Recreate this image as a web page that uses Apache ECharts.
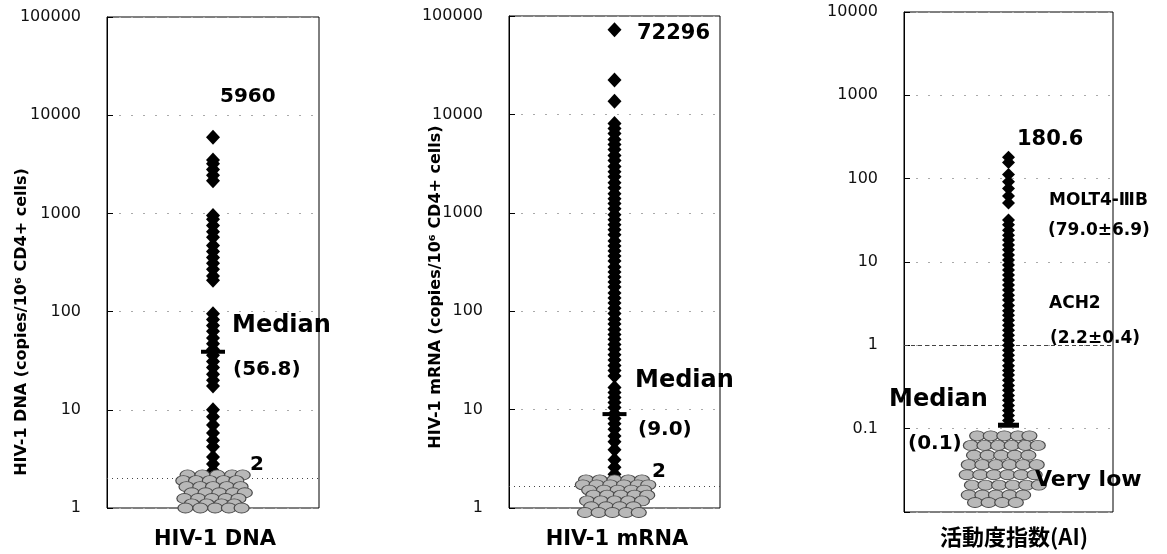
<!DOCTYPE html>
<html>
<head>
<meta charset="utf-8">
<script src="https://cdn.jsdelivr.net/npm/echarts@6/dist/echarts.min.js"></script>
<style>
  html, body { margin: 0; padding: 0; background: #fff; }
  #chart { width: 1167px; height: 554px; }
</style>
</head>
<body>
<div id="chart"></div>
<script>
// values (log scales)
const dnaHigh = [5960, 3500, 3200, 2800, 2450, 2150, 950, 870, 755, 650, 570, 470, 410, 355, 310, 270, 230, 208,
  95, 83, 72, 63, 54, 47, 41, 36, 31, 27, 23, 20, 17.5, 10, 8.5, 7, 5.8, 4.9, 4.2, 3.3, 2.8, 2.4];
const mrnaHigh = [72296, 22400, 13600, 8090, 7200, 6400, 5560, 4940, 4400, 3820, 3400, 2950, 2620, 2330, 2020,
  1800, 1560, 1390, 1240, 1100, 955, 849, 755, 671, 597, 518, 461, 410, 364, 324, 281, 250, 222, 198, 176,
  153, 136, 121, 107, 95, 83, 74, 65, 58, 52, 46, 41, 36, 32, 28, 25, 22, 16.8, 14.9, 13.3, 11.8, 10.5, 9.1,
  8.1, 7.2, 6.3, 5.4, 4.7, 3.9, 3.1, 2.6, 2.2];
const aiHigh = [180.6, 156, 112, 92, 76, 62, 51, 32, 28, 24, 21, 18.4, 16, 14, 12.1, 10.6, 9.2, 8, 7, 6.1, 5.3,
  4.6, 4, 3.5, 3, 2.6, 2.3, 2, 1.74, 1.52, 1.32, 1.15, 1, 0.87, 0.76, 0.66, 0.57, 0.5, 0.44, 0.38, 0.33, 0.29,
  0.25, 0.22, 0.19, 0.165, 0.144, 0.125];

// points below the cutoff, [x offset, value]
const dnaLow = [
  [-0.24, 2.17], [-0.1, 2.17], [0.04, 2.17], [0.18, 2.17], [0.28, 2.17],
  [-0.28, 1.9], [-0.16, 1.9], [-0.03, 1.9], [0.1, 1.9], [0.22, 1.9],
  [-0.25, 1.65], [-0.12, 1.65], [0.0, 1.65], [0.13, 1.65], [0.26, 1.65],
  [-0.2, 1.43], [-0.07, 1.43], [0.06, 1.43], [0.19, 1.43], [0.3, 1.43],
  [-0.27, 1.25], [-0.14, 1.25], [-0.01, 1.25], [0.12, 1.25], [0.24, 1.25],
  [-0.2, 1.1], [-0.06, 1.1], [0.08, 1.1], [0.2, 1.1],
  [-0.26, 1.0], [-0.12, 1.0], [0.02, 1.0], [0.15, 1.0], [0.27, 1.0]
];
const mrnaLow = [
  [-0.27, 1.93], [-0.14, 1.93], [0, 1.93], [0.13, 1.93], [0.26, 1.93],
  [-0.3, 1.72], [-0.17, 1.72], [-0.04, 1.72], [0.09, 1.72], [0.22, 1.72], [0.32, 1.72],
  [-0.24, 1.52], [-0.1, 1.52], [0.03, 1.52], [0.16, 1.52], [0.28, 1.52],
  [-0.2, 1.35], [-0.07, 1.35], [0.06, 1.35], [0.19, 1.35], [0.31, 1.35],
  [-0.26, 1.18], [-0.13, 1.18], [0, 1.18], [0.13, 1.18], [0.26, 1.18],
  [-0.22, 1.03], [-0.08, 1.03], [0.05, 1.03], [0.18, 1.03],
  [-0.28, 0.9], [-0.15, 0.9], [-0.02, 0.9], [0.11, 0.9], [0.23, 0.9]
];
const aiLow = [
  [-0.3, 0.082], [-0.17, 0.082], [-0.04, 0.082], [0.09, 0.082], [0.2, 0.082],
  [-0.36, 0.063], [-0.23, 0.063], [-0.1, 0.063], [0.03, 0.063], [0.16, 0.063], [0.28, 0.063],
  [-0.33, 0.048], [-0.2, 0.048], [-0.07, 0.048], [0.06, 0.048], [0.19, 0.048],
  [-0.38, 0.037], [-0.25, 0.037], [-0.12, 0.037], [0.01, 0.037], [0.14, 0.037], [0.27, 0.037],
  [-0.4, 0.028], [-0.27, 0.028], [-0.14, 0.028], [-0.01, 0.028], [0.12, 0.028], [0.25, 0.028],
  [-0.35, 0.021], [-0.22, 0.021], [-0.09, 0.021], [0.04, 0.021], [0.17, 0.021], [0.29, 0.021],
  [-0.38, 0.016], [-0.25, 0.016], [-0.12, 0.016], [0.01, 0.016], [0.14, 0.016],
  [-0.32, 0.013], [-0.19, 0.013], [-0.06, 0.013], [0.07, 0.013]
];

const medianMarks = [39, 9.0, 0.11];
const cutoffLines = [2, 1.68, 1];
const yRanges = [[1, 100000], [1, 100000], [0.01, 10000]];
const xNames = ['HIV-1 DNA', 'HIV-1 mRNA', '活動度指数(AI)'];

let chart = echarts.init(document.getElementById('chart'));

const grids = [
  { left: 107, top: 17, width: 212, height: 491 },
  { left: 509, top: 16, width: 211, height: 492 },
  { left: 904, top: 12, width: 209, height: 500 }
];

let fmt = (v) => {
  let n = +(+v).toPrecision(6);
  return n === 0.01 ? '' : String(n);
};

let xAxes = [], yAxes = [], series = [];
grids.forEach((g, i) => {
  g.show = true;
  g.borderColor = '#000';
  g.borderWidth = 1;
  xAxes.push({ gridIndex: i, type: 'value', min: -1, max: 1, show: false });
  yAxes.push({
    gridIndex: i, type: 'log', logBase: 10,
    min: yRanges[i][0], max: yRanges[i][1], splitNumber: i === 2 ? 6 : 5,
    axisLine: { show: true, onZero: false, lineStyle: { color: '#000', width: 1 } },
    axisTick: { show: true, inside: true, length: 6, lineStyle: { color: '#000' } },
    axisLabel: { formatter: fmt, margin: 26, color: '#111', fontSize: 16, fontFamily: 'DejaVu Sans' },
    splitLine: { show: true, lineStyle: { color: '#aaa', type: [2, 10], width: 1 } }
  });
});

let highSets = [dnaHigh, mrnaHigh, aiHigh];
let lowSets = [dnaLow, mrnaLow, aiLow];

highSets.forEach((set, i) => {
  series.push({
    type: 'scatter', xAxisIndex: i, yAxisIndex: i, clip: false, silent: true,
    symbol: 'diamond', symbolSize: i === 2 ? [13, 13] : [14, 15],
    itemStyle: { color: '#000', opacity: 1 },
    data: set.map((v) => [0, v]),
    z: 3
  });
  series.push({
    type: 'scatter', xAxisIndex: i, yAxisIndex: i, clip: false, silent: true,
    symbol: 'circle', symbolSize: [15, 10],
    itemStyle: { color: '#b8b8b8', borderColor: '#4a4a4a', borderWidth: 1, opacity: 1 },
    data: lowSets[i],
    z: 4,
    markLine: {
      silent: true, symbol: 'none', label: { show: false },
      lineStyle: { color: '#444', type: i === 2 ? [4, 3] : [1, 4], width: 1 },
      data: [{ yAxis: cutoffLines[i] }],
      z: 2
    }
  });
  series.push({
    type: 'scatter', xAxisIndex: i, yAxisIndex: i, clip: false, silent: true,
    symbol: 'rect', symbolSize: i === 2 ? [21, 5] : [24, 4],
    itemStyle: { color: '#000', opacity: 1 },
    data: [[0, medianMarks[i]]],
    z: 5
  });
});

let txt = (text, x, y, size, opts) => {
  opts = opts || {};
  return {
    type: 'text', x: x, y: y, z: 100, rotation: opts.rot || 0,
    style: {
      text: text,
      font: (opts.weight || 'bold') + ' ' + size + 'px ' + (opts.family || '"DejaVu Sans"'),
      fill: '#000',
      textAlign: opts.align || 'left', align: opts.align || 'left',
      textVerticalAlign: 'middle', verticalAlign: 'middle'
    }
  };
};

let graphics = [
  txt('HIV-1 DNA (copies/10⁶ CD4+ cells)', 22, 322, 16, { rot: Math.PI / 2, align: 'center' }),
  txt('HIV-1 mRNA (copies/10⁶ CD4+ cells)', 436, 287, 16, { rot: Math.PI / 2, align: 'center' }),

  txt('5960', 220, 97, 20),
  txt('Median', 232, 326, 24),
  txt('(56.8)', 233, 370, 20),
  txt('2', 250, 465, 20),

  txt('72296', 637, 34, 21),
  txt('Median', 635, 381, 24),
  txt('(9.0)', 638, 430, 20),
  txt('2', 652, 472, 20),

  txt('180.6', 1017, 140, 21),
  txt('MOLT4-ⅢB', 1049, 201, 17),
  txt('(79.0±6.9)', 1048, 231, 17),
  txt('ACH2', 1049, 304, 17),
  txt('(2.2±0.4)', 1050, 339, 17),
  txt('Median', 889, 400, 24),
  txt('(0.1)', 908, 444, 20),
  txt('Very low', 1035, 480, 22),

  txt(xNames[0], 215, 540, 21, { align: 'center' }),
  txt(xNames[1], 617, 540, 21, { align: 'center' }),
  txt(xNames[2], 1014, 537, 22, { align: 'center', family: '"Noto Sans CJK JP"' })
];

chart.setOption({
  animation: false,
  grid: grids,
  xAxis: xAxes,
  yAxis: yAxes,
  series: series,
  graphic: graphics
});
</script>
</body>
</html>
